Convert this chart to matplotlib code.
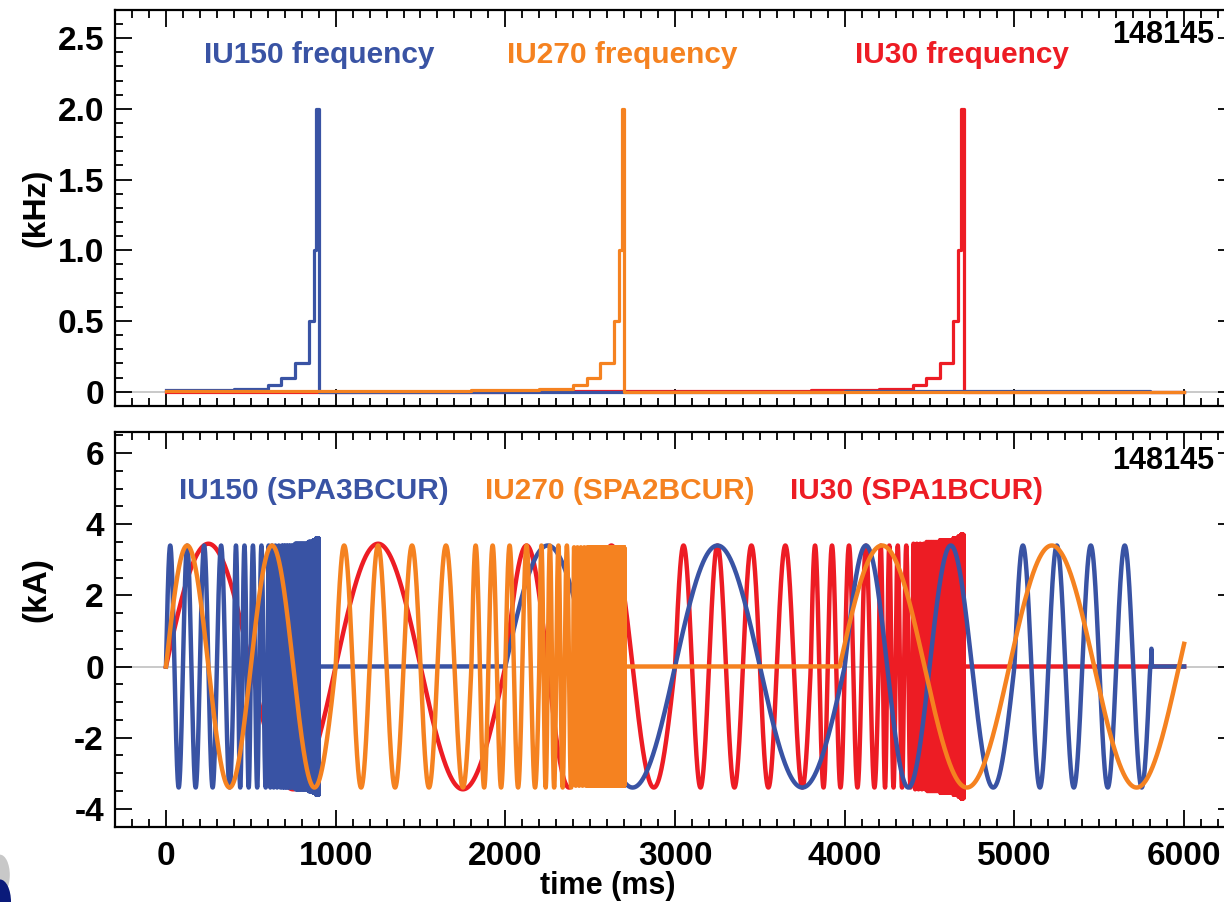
import numpy as np
import matplotlib
matplotlib.use('Agg')
import matplotlib.pyplot as plt
from matplotlib.ticker import MultipleLocator, FuncFormatter
from matplotlib.patches import Ellipse

# ==========================
# Coil programs
# ==========================
shot = '148145'
t_end = 6000.0

# segment start (ms), frequency (Hz), current amplitude (kA)
iu150_start = [0, 400, 600, 680, 760, 840, 870, 885, 900, 2000, 4000, 5000, 5800, 5805, 5810]
iu150_freq = [10, 20, 50, 100, 200, 500, 1000, 2000, 0, 1, 2, 5, 0, 100, 0]
iu150_amp = [3.4, 3.4, 3.4, 3.4, 3.45, 3.5, 3.55, 3.6, 0, 3.4, 3.4, 3.4, 0, 0.5, 0]

iu270_start = [0, 1000, 1800, 2200, 2400, 2480, 2560, 2640, 2670, 2685, 2700, 3970]
iu270_freq = [2, 5, 10, 20, 50, 100, 200, 500, 1000, 2000, 0, 1]
iu270_amp = [3.4, 3.4, 3.4, 3.4, 3.35, 3.35, 3.35, 3.35, 3.35, 3.35, 0, 3.4]

iu30_start = [0, 2000, 3000, 3800, 4200, 4400, 4480, 4560, 4640, 4670, 4685, 4700]
iu30_freq = [1, 2, 5, 10, 20, 50, 100, 200, 500, 1000, 2000, 0]
iu30_amp = [3.45, 3.4, 3.4, 3.4, 3.4, 3.45, 3.5, 3.55, 3.6, 3.65, 3.7, 0]

coil_names = ['IU150', 'IU270', 'IU30']
coil_sig = ['SPA3BCUR', 'SPA2BCUR', 'SPA1BCUR']
colors = {'IU150': '#3953a4', 'IU270': '#f58220', 'IU30': '#ed1c24'}

programs = {
    'IU150': (iu150_start, iu150_freq, iu150_amp),
    'IU270': (iu270_start, iu270_freq, iu270_amp),
    'IU30': (iu30_start, iu30_freq, iu30_amp),
}

dt = 0.025
t = np.arange(0, t_end + dt, dt)


def coil_current(starts, freqs, amps):
    """Sine wave restarted at each segment of the frequency program."""
    starts = np.asarray(starts, dtype=float)
    idx = np.searchsorted(starts, t, side='right') - 1
    f = np.asarray(freqs, dtype=float)[idx] / 1000.0   # cycles / ms
    a = np.asarray(amps, dtype=float)[idx]
    return a * np.sin(2 * np.pi * f * (t - starts[idx]))


# ==========================
# Figure
# ==========================
plt.rcParams['font.family'] = ['Liberation Sans', 'DejaVu Sans']
plt.rcParams['font.weight'] = 'bold'
plt.rcParams['axes.unicode_minus'] = False

fig = plt.figure(figsize=(12.24, 9.02), dpi=100)
ax1 = fig.add_axes([0.094, 0.550, 0.915, 0.439])
ax2 = fig.add_axes([0.094, 0.0835, 0.915, 0.438])

draw_order = ['IU30', 'IU150', 'IU270']

for ax in (ax1, ax2):
    ax.axhline(0, color='#c0c0c0', lw=1.2, zorder=0)

# top: frequency programs (the short current blip is not part of it)
for k, name in enumerate(draw_order):
    starts, freqs, amps = programs[name]
    keep = [i for i in range(len(starts)) if amps[i] >= 1 or freqs[i] == 0]
    x = [starts[i] for i in keep] + [t_end]
    y = [freqs[i] / 1000.0 for i in keep]
    y = y + [y[-1]]
    ax1.step(x, y, where='post', color=colors[name], lw=2.3, zorder=2 + k)

# bottom: coil currents
for k, name in enumerate(draw_order):
    starts, freqs, amps = programs[name]
    ax2.plot(t, coil_current(starts, freqs, amps), color=colors[name],
             lw=3.2, zorder=2 + k)

ax1.set_xlim(-300, 6300)
ax2.set_xlim(-300, 6300)
ax1.set_ylim(-0.1, 2.7)
ax2.set_ylim(-4.5, 6.6)

ax1.yaxis.set_major_locator(MultipleLocator(0.5))
ax1.yaxis.set_minor_locator(MultipleLocator(0.1))
ax1.yaxis.set_major_formatter(FuncFormatter(lambda v, p: '0' if abs(v) < 1e-9 else f'{v:.1f}'))
ax2.yaxis.set_major_locator(MultipleLocator(2))
ax2.yaxis.set_minor_locator(MultipleLocator(0.5))
for ax in (ax1, ax2):
    ax.xaxis.set_major_locator(MultipleLocator(1000))
    ax.xaxis.set_minor_locator(MultipleLocator(100))
    ax.tick_params(which='both', direction='in', top=True, right=True,
                   labelsize=24, width=1.3, pad=8)
    ax.tick_params(which='major', length=12)
    ax.tick_params(which='minor', length=6)
    for s in ax.spines.values():
        s.set_linewidth(1.6)
    for lab in ax.get_yticklabels() + ax.get_xticklabels():
        lab.set_fontweight('bold')
ax1.tick_params(labelbottom=False)
ax2.tick_params(axis='x', pad=10)

ax1.set_ylabel('(kHz)', fontsize=23, fontweight='bold')
ax1.yaxis.set_label_coords(-0.057, 0.5)
ax2.set_ylabel('(kA)', fontsize=24, fontweight='bold')
ax2.yaxis.set_label_coords(-0.056, 0.60)
ax2.set_xlabel('time (ms)', fontsize=22, fontweight='bold')
ax2.xaxis.set_label_coords(0.44, -0.113)

# labels
top_x = [226, 2008, 4060]
bot_x = [79, 1878, 3677]
for k, name in enumerate(coil_names):
    ax1.text(top_x[k], 2.38, f'{name} frequency', color=colors[name],
             fontsize=21.5, fontweight='bold', va='center')
    ax2.text(bot_x[k], 4.94, f'{name} ({coil_sig[k]})', color=colors[name],
             fontsize=21.5, fontweight='bold', va='center')

ax1.text(6175, 2.52, shot, fontsize=22, fontweight='bold',
         ha='right', va='center')
ax2.text(6175, 5.78, shot, fontsize=22, fontweight='bold',
         ha='right', va='center')

# cut-off logo in the lower left corner
fig.patches.append(Ellipse((0.0, 0.03), 0.016, 0.045, transform=fig.transFigure,
                           facecolor='#c8c8c8', edgecolor='none'))
fig.patches.append(Ellipse((0.0, 0.0), 0.018, 0.05, transform=fig.transFigure,
                           facecolor='#0a1a7a', edgecolor='none'))

fig.savefig('out.png', dpi=100)
